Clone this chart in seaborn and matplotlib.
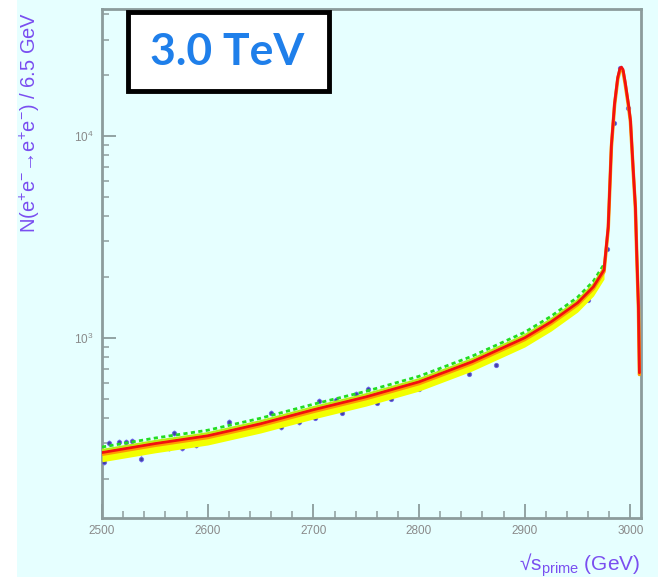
import numpy as np
import pandas as pd
import matplotlib
matplotlib.use("Agg")
import matplotlib.pyplot as plt
from matplotlib.patches import Rectangle
from matplotlib.ticker import LogLocator, MultipleLocator, NullFormatter, FixedLocator
import seaborn as sns

# ---- data ----
curve_e = [2500, 2550, 2600, 2650, 2700, 2750, 2800, 2850, 2900, 2925, 2950, 2965,
           2975, 2979, 2982, 2985, 2988, 2990, 2991.5, 2993, 2995, 2998, 3000,
           3002.5, 3004.7, 3006, 3007.6, 3008.5]
curve_n = [270, 299, 327, 375, 440, 510, 605, 760, 1000, 1200, 1490, 1790,
           2170, 3550, 9000, 14500, 19500, 21500, 21900, 21300, 18500, 14500, 12000,
           7000, 4460, 2600, 1420, 671]

points_e = [2502, 2506.6, 2516, 2523, 2528, 2537, 2563, 2568, 2576, 2589, 2620, 2636,
            2660, 2669, 2686, 2702, 2705, 2721, 2727, 2740, 2752, 2760, 2773, 2800,
            2818.5, 2847, 2873, 2885, 2904, 2910, 2922.5, 2938.5, 2960, 2978, 2984,
            2990, 2998]
points_n = [243, 302, 306, 306, 309, 252, 285, 339, 285, 295, 383, 343,
            426, 362, 383, 402, 488, 493, 426, 528, 560, 476, 499, 560,
            680, 664, 735, 934, 1035, 1083, 1200, 1345, 1543, 2760, 11600,
            21700, 13800]

title_text = "3.0 TeV"
ylabel_text = "N(e$^{+}$e$^{-}$→e$^{+}$e$^{-}$) / 6.5 GeV"
xlabel_text = "√s$_{\\mathregular{prime}}$ (GeV)"
x_ticks = [2500, 2600, 2700, 2800, 2900, 3000]

# ---- style ----
sns.set_theme(style="ticks")
plt.rcParams["font.family"] = ["Liberation Sans", "DejaVu Sans"]
plt.rcParams["mathtext.fontset"] = "custom"
plt.rcParams["mathtext.rm"] = "Liberation Sans"
plt.rcParams["mathtext.it"] = "Liberation Sans"

BG = "#e6ffff"
SPINE = "#8c9c9c"
LABEL = "#7a4ef0"
TICKLBL = "#8a8a8a"

W, H = 658, 580
fig = plt.figure(figsize=(W / 100, H / 100), dpi=100, facecolor="white")
fig.patches.append(Rectangle((17 / W, 3 / H), 1 - 17 / W, 1 - 3 / H,
                             transform=fig.transFigure, facecolor=BG,
                             edgecolor="none", zorder=-10))

ax = fig.add_axes([102 / W, 1 - 518 / H, (641 - 102) / W, (518 - 9) / H])
ax.set_facecolor(BG)

curve = pd.DataFrame({"E": curve_e, "N": curve_n})
pts = pd.DataFrame({"E": points_e, "N": points_n})
band = curve[curve["E"] <= 2976]

# data points with error bars (drawn beneath the fits)
ax.errorbar(pts["E"], pts["N"], yerr=np.sqrt(pts["N"]) * 0.6, fmt="none",
            ecolor="#7a6cf5", elinewidth=1.0, capsize=0, zorder=2, alpha=0.7)
sns.scatterplot(data=pts, x="E", y="N", ax=ax, color="#30309a", s=10,
                marker="o", edgecolor="#6a60f0", linewidth=0.6, zorder=3,
                legend=False, alpha=0.85)

# band of fits
ax.fill_between(band["E"], band["N"] * 0.90, band["N"] * 1.03,
                color="#f2ff00", lw=0, zorder=4)
sns.lineplot(x=band["E"], y=band["N"] * 1.065, ax=ax, color="#22dd22",
             lw=2.0, linestyle=(0, (1.5, 1.2)), zorder=5, sort=False)
sns.lineplot(x=band["E"], y=band["N"] * 1.03, ax=ax, color="#b8ee10",
             lw=1.5, zorder=5, sort=False)
sns.lineplot(x=curve["E"], y=curve["N"] * 0.98, ax=ax, color="#ff9a00",
             lw=2.5, zorder=6, sort=False)
sns.lineplot(data=curve, x="E", y="N", ax=ax, color="#f21010",
             lw=2.0, zorder=7, sort=False)

ax.set_yscale("log")
ax.set_xlim(2500, 3010)
ax.set_ylim(128, 42500)

ax.xaxis.set_major_locator(FixedLocator(x_ticks))
ax.xaxis.set_minor_locator(MultipleLocator(20))
ax.yaxis.set_major_locator(LogLocator(base=10, numticks=10))
ax.yaxis.set_minor_locator(LogLocator(base=10, subs=np.arange(2, 10), numticks=20))
ax.yaxis.set_minor_formatter(NullFormatter())

ax.tick_params(axis="both", which="major", direction="in", length=10, width=1.3,
               color=SPINE, labelcolor=TICKLBL, labelsize=8.5)
ax.tick_params(axis="both", which="minor", direction="in", length=5, width=1.1,
               color=SPINE)
ax.tick_params(axis="x", which="major", pad=5)
ax.tick_params(axis="y", which="major", pad=6)
ax.set_xticklabels([str(t) for t in x_ticks])

for s in ax.spines.values():
    s.set_color(SPINE)
    s.set_linewidth(2.0)

ax.set_xlabel("")
ax.set_ylabel("")

fig.text(30 / W, 1 - 12 / H, ylabel_text, rotation=90, ha="center", va="top",
         color=LABEL, fontsize=14.5)
fig.text(640 / W, 1 - 565 / H, xlabel_text, ha="right", va="center",
         color=LABEL, fontsize=15)

# title box
fig.patches.append(Rectangle((128 / W, 1 - 91 / H), (329 - 128) / W, (91 - 12) / H,
                             transform=fig.transFigure, facecolor="white",
                             edgecolor="black", linewidth=3.5, zorder=20))
fig.text(227 / W, 1 - 52 / H, title_text, ha="center", va="center",
         color="#1f7fea", fontsize=32, fontweight="bold",
         family=["Lato", "DejaVu Sans"], zorder=21)

fig.savefig("out.png", dpi=100, facecolor=fig.get_facecolor())
